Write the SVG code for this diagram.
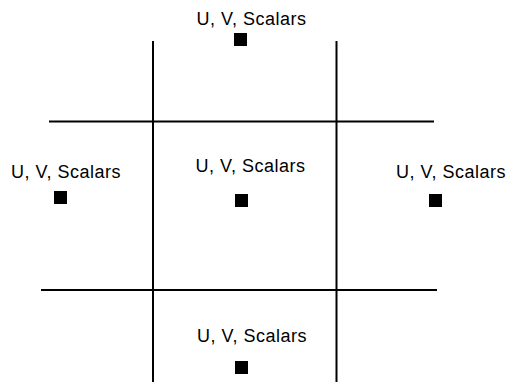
<svg xmlns="http://www.w3.org/2000/svg" width="510" height="383" viewBox="0 0 510 383">
<style>
.lbl{font-family:"Liberation Sans",Arial,sans-serif;font-size:18px;fill:#000;text-anchor:middle;letter-spacing:0.5px}
.pt{fill:#000}
.grid line{stroke:#000;stroke-width:2}
</style>
<rect width="510" height="383" fill="#fff"/>
<g id="grid" class="grid">
<line x1="153" y1="41" x2="153" y2="382"/>
<line x1="336.5" y1="41" x2="336.5" y2="382"/>
<line x1="49" y1="121.5" x2="434" y2="121.5"/>
<line x1="41" y1="290" x2="437" y2="290"/>
</g>
<g id="node-top">
<text class="lbl" x="251.5" y="25">U, V, Scalars</text>
<rect class="pt" x="234" y="33" width="13" height="13"/>
</g>
<g id="node-left">
<text class="lbl" x="66" y="178">U, V, Scalars</text>
<rect class="pt" x="54" y="191" width="13" height="13"/>
</g>
<g id="node-center">
<text class="lbl" x="250.5" y="172">U, V, Scalars</text>
<rect class="pt" x="235" y="194" width="13" height="13"/>
</g>
<g id="node-right">
<text class="lbl" x="451" y="178">U, V, Scalars</text>
<rect class="pt" x="429" y="194" width="13" height="13"/>
</g>
<g id="node-bottom">
<text class="lbl" x="252" y="342">U, V, Scalars</text>
<rect class="pt" x="235" y="361" width="13" height="13"/>
</g>
</svg>
